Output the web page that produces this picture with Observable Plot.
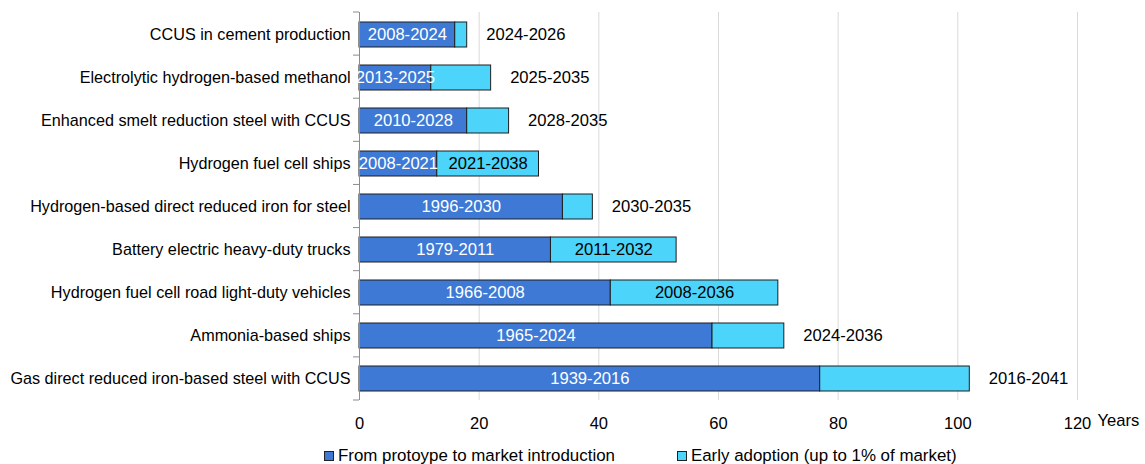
<!DOCTYPE html>
<html>
<head>
<meta charset="utf-8">
<script src="https://cdn.jsdelivr.net/npm/d3@7"></script>
<script src="https://cdn.jsdelivr.net/npm/@observablehq/plot@0.6"></script>
<style>
  body { margin: 0; background: #fff; font-family: "Liberation Sans", Arial, sans-serif; }
  #chart svg g[aria-label^="y-axis"] text { font-size: 16.2px; }
  .legend { display: flex; align-items: center; padding-left: 324px; margin-top: 10px; font-size: 16.9px; color: #000; height: 20px; }
  .legend .item { display: flex; align-items: center; }
  .legend .sw { width: 8px; height: 8px; border: 1px solid #222; margin-right: 4px; }
</style>
</head>
<body>
<div id="chart"></div>
<script>
const categories = [
  "CCUS in cement production",
  "Electrolytic hydrogen-based methanol",
  "Enhanced smelt reduction steel with CCUS",
  "Hydrogen fuel cell ships",
  "Hydrogen-based direct reduced iron for steel",
  "Battery electric heavy-duty trucks",
  "Hydrogen fuel cell road light-duty vehicles",
  "Ammonia-based ships",
  "Gas direct reduced iron-based steel with CCUS"
];
const prototypeYears = [16, 12, 18, 13, 34, 32, 42, 59, 77];
const adoptionYears  = [2, 10, 7, 17, 5, 21, 28, 12, 25];
const prototypeLabels = ["2008-2024", "2013-2025", "2010-2028", "2008-2021", "1996-2030", "1979-2011", "1966-2008", "1965-2024", "1939-2016"];
const adoptionLabels  = ["2024-2026", "2025-2035", "2028-2035", "2021-2038", "2030-2035", "2011-2032", "2008-2036", "2024-2036", "2016-2041"];
const seriesNames = ["From protoype to market introduction", "Early adoption (up to 1% of market)"];
const xTicks = [0, 20, 40, 60, 80, 100, 120];
const axisUnit = "Years";

const colors = ["#3d79d5", "#4cd4fb"];
const insideAdoption = new Set(["Hydrogen fuel cell ships", "Battery electric heavy-duty trucks", "Hydrogen fuel cell road light-duty vehicles"]);

const rows = categories.map((c, i) => ({
  cat: c, proto: prototypeYears[i], adopt: adoptionYears[i],
  pLabel: prototypeLabels[i], aLabel: adoptionLabels[i]
}));
const long = rows.flatMap(r => [
  {cat: r.cat, series: seriesNames[0], value: r.proto},
  {cat: r.cat, series: seriesNames[1], value: r.adopt}
]);

const W = 1145, H = 436, mT = 12, mB = 36, mL = 359, mR = 68;

const boundaryTicks = (index, scales, values, dims) => {
  const g = d3.create("svg:g");
  const step = (dims.height - dims.marginTop - dims.marginBottom) / categories.length;
  for (let i = 0; i <= categories.length; i++) {
    const y = dims.marginTop + i * step;
    g.append("line").attr("x1", dims.marginLeft - 6).attr("x2", dims.marginLeft)
      .attr("y1", y).attr("y2", y).attr("stroke", "#8c8c8c").attr("stroke-width", 1);
  }
  return g.node();
};

const plot = Plot.plot({
  width: W, height: H,
  marginTop: mT, marginBottom: mB, marginLeft: mL, marginRight: mR,
  style: { fontFamily: "Liberation Sans, Arial, sans-serif", fontSize: "16.5px", color: "#000", background: "#fff" },
  x: { domain: [0, 120], ticks: xTicks, tickSize: 0, tickPadding: 17, label: null },
  y: { type: "band", domain: categories, paddingInner: 0.43, paddingOuter: 0.215, tickSize: 0, tickPadding: 9, label: null },
  color: { domain: seriesNames, range: colors },
  marks: [
    Plot.ruleX(xTicks.filter(t => t > 0), { stroke: "#d9d9d9", strokeWidth: 1 }),
    Plot.barX(long, Plot.stackX({ x: "value", y: "cat", fill: "series", stroke: "#1e1e1e", strokeWidth: 1, order: seriesNames })),
    Plot.ruleX([0], { stroke: "#8c8c8c", strokeWidth: 1 }),
    boundaryTicks,
    Plot.text(rows, { x: d => d.proto / 2, y: "cat", text: "pLabel", fill: "#fff", fontSize: 16.6 }),
    Plot.text(rows.filter(r => insideAdoption.has(r.cat)), { x: d => d.proto + d.adopt / 2, y: "cat", text: "aLabel", fill: "#000", fontSize: 16.6 }),
    Plot.text(rows.filter(r => !insideAdoption.has(r.cat)), { x: d => d.proto + d.adopt, y: "cat", text: "aLabel", fill: "#000", fontSize: 16.6, textAnchor: "start", dx: 19 }),
    Plot.text([axisUnit], { x: 120, frameAnchor: "bottom", text: d => d, textAnchor: "start", dx: 20, dy: 25, fill: "#000", fontSize: 16.6 })
  ]
});
document.getElementById("chart").appendChild(plot);

const legend = d3.select("body").append("div").attr("class", "legend");
seriesNames.forEach((s, i) => {
  const item = legend.append("div").attr("class", "item").style("margin-right", i === 0 ? "62px" : "0");
  item.append("div").attr("class", "sw").style("background", colors[i]);
  item.append("span").text(s);
});
</script>
</body>
</html>
